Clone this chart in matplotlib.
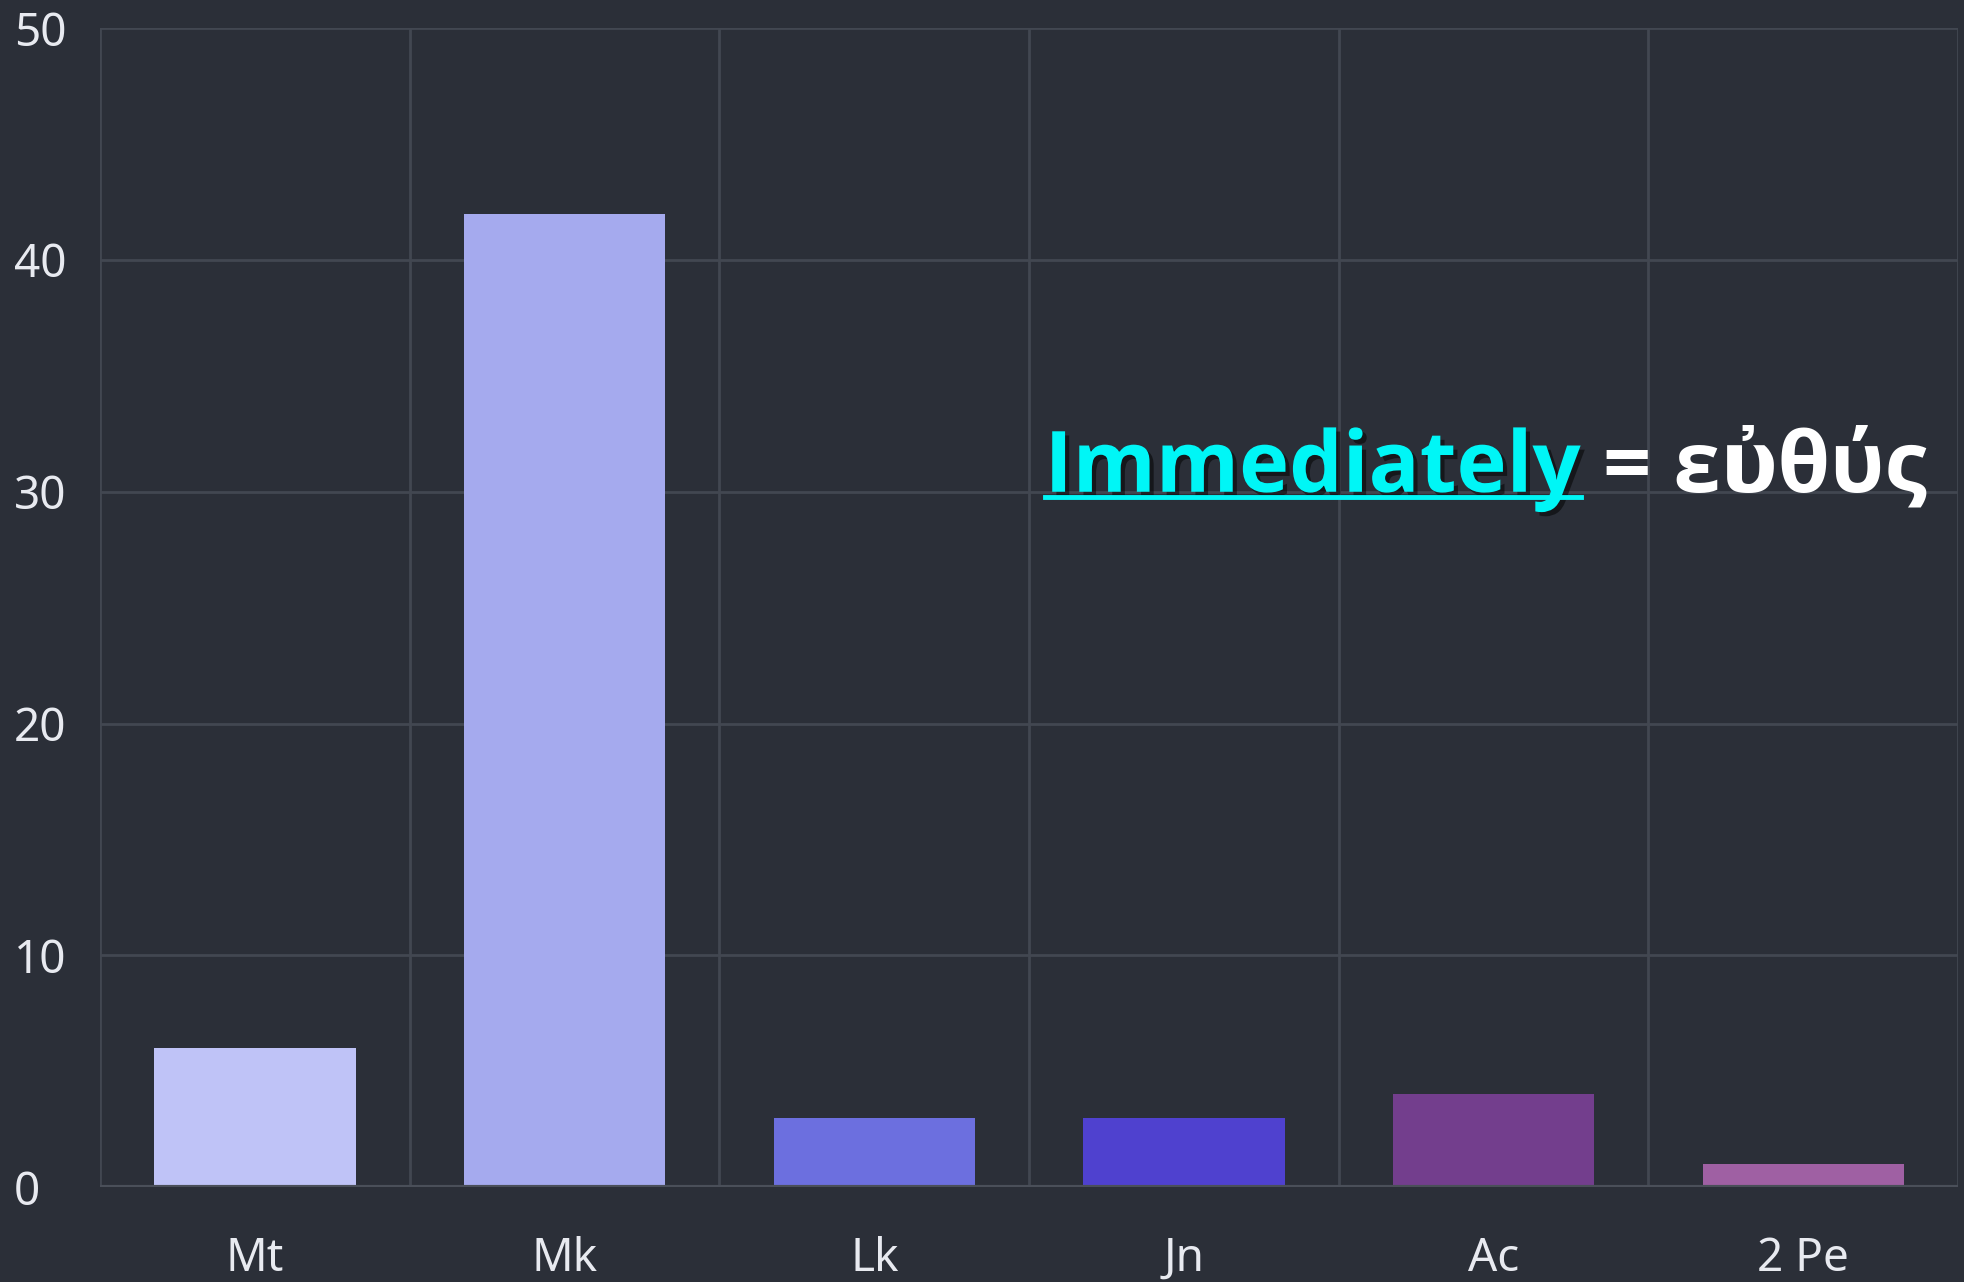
import matplotlib
matplotlib.use('Agg')
import matplotlib.pyplot as plt
import matplotlib.patheffects as pe
from matplotlib.lines import Line2D
import numpy as np

books = ['Mt', 'Mk', 'Lk', 'Jn', 'Ac', '2 Pe']
counts = [6, 42, 3, 3, 4, 1]
barColors = ['#bfc3f7', '#a5aaee', '#6c6fdf', '#4f41cf', '#733e8d', '#9f60a3']
yTicks = [0, 10, 20, 30, 40, 50]

bgColor = '#2b2f38'
gridColor = '#424751'
textColor = '#e8eaf0'

plt.rcParams['font.family'] = ['Noto Sans', 'DejaVu Sans']

fig = plt.figure(figsize=(19.64, 12.82), dpi=100, facecolor=bgColor)
ax = fig.add_axes([0.051, 0.074, 0.946, 0.904])
ax.set_facecolor(bgColor)

x = np.arange(len(books))
ax.bar(x, counts, width=0.65, color=barColors, zorder=3)

ax.set_xlim(-0.5, len(books) - 0.5)
ax.set_ylim(0, 50)
ax.set_yticks(yTicks)
ax.set_xticks(x)
ax.set_xticklabels(books)
ax.set_xticks(np.arange(-0.5, len(books)), minor=True)

ax.grid(axis='y', which='major', color=gridColor, linewidth=2, zorder=0)
ax.grid(axis='x', which='minor', color=gridColor, linewidth=2, zorder=0)
ax.grid(axis='x', which='major', visible=False)
ax.axhline(0, color='#4a4f59', linewidth=3, zorder=4)

for s in ax.spines.values():
    s.set_visible(False)

ax.tick_params(axis='both', which='both', length=0, labelcolor=textColor, labelsize=33)
ax.tick_params(axis='y', pad=62)
ax.tick_params(axis='x', pad=35)
for lbl in ax.get_yticklabels():
    lbl.set_horizontalalignment('left')

# Open Sans has no Greek Extended, so DejaVu Sans Bold covers the breathing mark
titleFont = ['Open Sans', 'DejaVu Sans']
shadow = [pe.SimplePatchShadow(offset=(3, -3), shadow_rgbFace='black', alpha=0.5), pe.Normal()]
t1 = ax.text(2.55, 30, 'Immediately', color='#00f6f6', fontsize=61, fontweight='bold',
             family=titleFont, va='baseline', ha='left', zorder=6, path_effects=shadow)
t2 = ax.annotate(' = εὐθύς', xy=(1, 0), xycoords=t1, va='bottom', ha='left',
                 color='white', fontsize=61, fontweight='bold', family=titleFont,
                 zorder=6, annotation_clip=False)

# underline below "Immediately"
fig.canvas.draw()
bb = t1.get_window_extent()
fbb = bb.transformed(fig.transFigure.inverted())
tx = ax.transData.transform((2.55, 30))
uy = fig.transFigure.inverted().transform((0, tx[1] - 5))[1]
fig.add_artist(Line2D([fbb.x0, fbb.x1], [uy, uy], color='#00f6f6', linewidth=3.5,
                      zorder=6, path_effects=shadow))

fig.savefig('out.png', dpi=100, facecolor=bgColor)
